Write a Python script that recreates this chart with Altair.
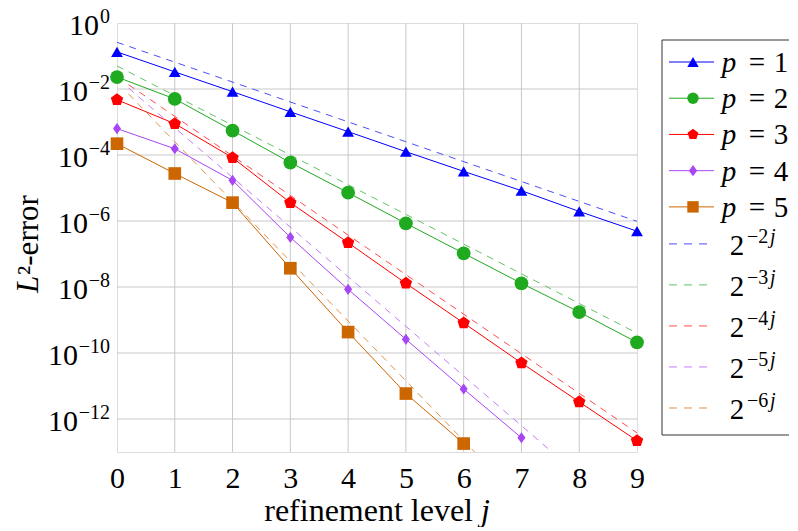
import altair as alt
import pandas as pd

SERIF = "Liberation Serif"

# ---------------- data ----------------
levels = [0, 1, 2, 3, 4, 5, 6, 7, 8, 9]
series = ["p = 1", "p = 2", "p = 3", "p = 4", "p = 5"]
err_p1 = [1.33e-1, 3.3e-2, 8.3e-3, 2.04e-3, 5.1e-4, 1.26e-4, 3.2e-5, 8.3e-6, 1.95e-6, 4.9e-7]
err_p2 = [2.3e-2, 5.0e-3, 5.5e-4, 5.9e-5, 7.2e-6, 8.5e-7, 1.05e-7, 1.29e-8, 1.74e-9, 2.1e-10]
err_p3 = [4.7e-3, 8.9e-4, 8.3e-5, 3.6e-6, 2.2e-7, 1.29e-8, 8.1e-10, 5.0e-11, 3.3e-12, 2.2e-13]
err_p4 = [6.3e-4, 1.55e-4, 1.7e-5, 3.2e-7, 8.5e-9, 2.6e-10, 8.1e-12, 2.7e-13]
err_p5 = [2.2e-4, 2.75e-5, 3.6e-6, 3.7e-8, 4.3e-10, 5.9e-12, 1.8e-13]
errs = [err_p1, err_p2, err_p3, err_p4, err_p5]

refs = ["2^-2j", "2^-3j", "2^-4j", "2^-5j", "2^-6j"]
ref_exp = ["\u22122", "\u22123", "\u22124", "\u22125", "\u22126"]
ref_j0 = [0, 0, 0.2, 0.2, 0.2]
ref_j1 = [9, 9, 9, 7.53, 6.19]
ref_v0 = [0.26, 0.050, 0.0135, 0.0107, 0.0071]
ref_v1 = [9.8e-7, 4.0e-10, 3.8e-13, 1e-13, 1e-13]

grid_x = [1, 2, 3, 4, 5, 6, 7, 8]
grid_y = [1e-2, 1e-4, 1e-6, 1e-8, 1e-10, 1e-12]
y_label_exp = [0, -2, -4, -6, -8, -10, -12]

# ---------------- styles ----------------
colors_solid = ["#0000ff", "#1faa1f", "#ff0000", "#a846f5", "#cc6600"]
colors_dash = ["#4d4dff", "#62c362", "#ff4d4d", "#c27df8", "#db944d"]
PENTAGON = "M0,-1L0.951,-0.309L0.588,0.809L-0.588,0.809L-0.951,-0.309Z"
DIAMOND = "M0,-1L0.72,0L0,1L-0.72,0Z"
shapes = ["triangle-up", "circle", PENTAGON, DIAMOND, "square"]
sizes = [140, 190, 170, 125, 160]

# ---------------- tables ----------------
solid_rows = []
for name, vals in zip(series, errs):
    for j, v in zip(levels, vals):
        solid_rows.append({"name": name, "j": j, "err": v})
df_solid = pd.DataFrame(solid_rows)

dash_rows = []
for name, a, b, va, vb in zip(refs, ref_j0, ref_j1, ref_v0, ref_v1):
    dash_rows.append({"name": name, "j": a, "err": va})
    dash_rows.append({"name": name, "j": b, "err": vb})
df_dash = pd.DataFrame(dash_rows)

color_scale = alt.Scale(domain=series + refs, range=colors_solid + colors_dash)
x_scale = alt.Scale(domain=[0, 9], nice=False, zero=False)
y_scale = alt.Scale(type="log", domain=[1e-13, 1], nice=False)

x_axis = alt.Axis(values=levels, format="d", grid=False, ticks=False, tickSize=0,
                  domain=False, labelFont=SERIF, labelFontSize=30, labelColor="black",
                  labelPadding=11, labelFlush=False, title=None)
x_enc = alt.X("j:Q", scale=x_scale, axis=x_axis)
y_enc = alt.Y("err:Q", scale=y_scale, axis=None)
col_enc = alt.Color("name:N", scale=color_scale, legend=None)

GRID = "#c8c8c8"
vgrid = alt.Chart(pd.DataFrame({"j": grid_x})).mark_rule(color=GRID, strokeWidth=1).encode(x=x_enc)
hgrid = alt.Chart(pd.DataFrame({"err": grid_y})).mark_rule(color=GRID, strokeWidth=1).encode(y=y_enc)

dashed = alt.Chart(df_dash).mark_line(strokeDash=[7, 6], strokeWidth=1, clip=True).encode(
    x=x_enc, y=y_enc, color=col_enc)
solid = alt.Chart(df_solid).mark_line(strokeWidth=1).encode(x=x_enc, y=y_enc, color=col_enc)

point_layers = []
for name, shp, sz, col in zip(series, shapes, sizes, colors_solid):
    point_layers.append(
        alt.Chart(df_solid[df_solid["name"] == name]).mark_point(
            filled=True, opacity=1, shape=shp, size=sz, color=col, strokeWidth=0
        ).encode(x=x_enc, y=y_enc)
    )

# y tick labels: "10" + superscript exponent
df_yl = pd.DataFrame({"e": y_label_exp})
yl_base = alt.Chart(df_yl).transform_calculate(
    err="pow(10, datum.e)",
    es="datum.e == 0 ? '0' : '\u2212' + abs(datum.e)",
)
exp_text = yl_base.mark_text(align="right", baseline="alphabetic", font=SERIF,
                             fontSize=20, color="black").encode(
    x=alt.value(-7), y=y_enc, text="es:N")
ten_layers = []
for cond, off in [("datum.e == 0", 18), ("datum.e < 0 && datum.e > -10", 29),
                  ("datum.e <= -10", 39)]:
    ten_layers.append(
        yl_base.transform_filter(cond).mark_text(
            text="10", align="right", baseline="alphabetic", font=SERIF,
            fontSize=30, color="black", dy=12).encode(x=alt.value(-off), y=y_enc)
    )

# axis titles
one = pd.DataFrame({"k": [0]})
ytitle_L = alt.Chart(one).mark_text(text="L", angle=270, align="left", baseline="alphabetic",
                                    font=SERIF, fontSize=31, fontStyle="italic", color="black").encode(
    x=alt.value(-79), y=alt.value(270))
ytitle_rest = alt.Chart(one).mark_text(text="\u00b2-error", angle=270, align="left",
                                       baseline="alphabetic", font=SERIF, fontSize=31,
                                       color="black").encode(
    x=alt.value(-79), y=alt.value(252))
xtitle_a = alt.Chart(one).mark_text(text="refinement level", align="right", baseline="alphabetic",
                                    font=SERIF, fontSize=32, color="black").encode(
    x=alt.value(356), y=alt.value(498))
xtitle_j = alt.Chart(one).mark_text(text="j", align="left", baseline="alphabetic",
                                    font=SERIF, fontSize=32, fontStyle="italic", color="black").encode(
    x=alt.value(364), y=alt.value(498))

# ---------------- legend (drawn to the right of the plot) ----------------
leg_rows = []
for i, name in enumerate(series):
    leg_rows.append({"name": name, "row": i, "kind": "solid", "num": name.split("= ")[1], "ex": ""})
for i, (name, ex) in enumerate(zip(refs, ref_exp)):
    leg_rows.append({"name": name, "row": 5 + i, "kind": "dash", "num": "", "ex": ex})
df_leg = pd.DataFrame(leg_rows)

leg_base = alt.Chart(df_leg).transform_calculate(
    slot="datum.row < 5 ? datum.row : 5.022 + (datum.row - 5) * 1.1326"
).transform_calculate(ypx="39 + datum.slot * 36.22")
leg_y = alt.Y("ypx:Q", scale=None, axis=None)
solid_leg = leg_base.transform_filter("datum.kind == 'solid'")
dash_leg = leg_base.transform_filter("datum.kind == 'dash'")

LX = 545  # left edge of legend box, relative to plot origin
leg_solid_line = solid_leg.mark_rule(strokeWidth=1).encode(
    x=alt.value(LX + 7), x2=alt.value(LX + 52), y=leg_y, color=col_enc)
leg_dash_line = dash_leg.mark_rule(strokeWidth=1, strokeDash=[8, 7]).encode(
    x=alt.value(LX + 7), x2=alt.value(LX + 46), y=leg_y, color=col_enc)
leg_points = []
for name, shp, col in zip(series, shapes, colors_solid):
    leg_points.append(
        solid_leg.transform_filter(alt.datum.name == name).mark_point(
            filled=True, opacity=1, shape=shp, size=130, color=col, strokeWidth=0
        ).encode(x=alt.value(LX + 31), y=leg_y)
    )
leg_p = solid_leg.mark_text(text="p", align="center", baseline="alphabetic", font=SERIF,
                            fontSize=29, fontStyle="italic", color="black", dy=10).encode(
    x=alt.value(LX + 67), y=leg_y)
leg_eq = solid_leg.mark_text(text="=", align="center", baseline="alphabetic", font=SERIF,
                             fontSize=29, color="black", dy=10).encode(
    x=alt.value(LX + 95), y=leg_y)
leg_num = solid_leg.mark_text(align="center", baseline="alphabetic", font=SERIF,
                              fontSize=29, color="black", dy=10).encode(
    x=alt.value(LX + 119), y=leg_y, text="num:N")
leg_two = dash_leg.mark_text(text="2", align="center", baseline="alphabetic", font=SERIF,
                             fontSize=29, color="black", dy=11).encode(
    x=alt.value(LX + 75), y=leg_y)
leg_ex = dash_leg.mark_text(align="left", baseline="alphabetic", font=SERIF,
                            fontSize=20, color="black", dy=-1).encode(
    x=alt.value(LX + 85), y=leg_y, text="ex:N")
leg_j = dash_leg.mark_text(text="j", align="left", baseline="alphabetic", font=SERIF,
                           fontSize=20, fontStyle="italic", color="black", dy=-1).encode(
    x=alt.value(LX + 108), y=leg_y)

BOX = "#333333"
box_l = alt.Chart(one).mark_rule(color=BOX, strokeWidth=1).encode(
    x=alt.value(LX), y=alt.value(17), y2=alt.value(412))
box_t = alt.Chart(one).mark_rule(color=BOX, strokeWidth=1).encode(
    x=alt.value(LX), x2=alt.value(LX + 127), y=alt.value(17))
box_b = alt.Chart(one).mark_rule(color=BOX, strokeWidth=1).encode(
    x=alt.value(LX), x2=alt.value(LX + 127), y=alt.value(412))

chart = alt.layer(
    vgrid, hgrid, solid, dashed, *point_layers, exp_text, *ten_layers,
    ytitle_L, ytitle_rest, xtitle_a, xtitle_j,
    leg_solid_line, leg_dash_line, *leg_points, leg_p, leg_eq, leg_num,
    leg_two, leg_ex, leg_j, box_l, box_t, box_b
).properties(
    width=520, height=429,
    padding={"left": 5, "top": -1, "right": 0, "bottom": 0}
).configure_view(stroke="#404040", strokeWidth=1.2).configure(background="white")

chart.save("out.html", embed_options={"renderer": "svg", "actions": False})
